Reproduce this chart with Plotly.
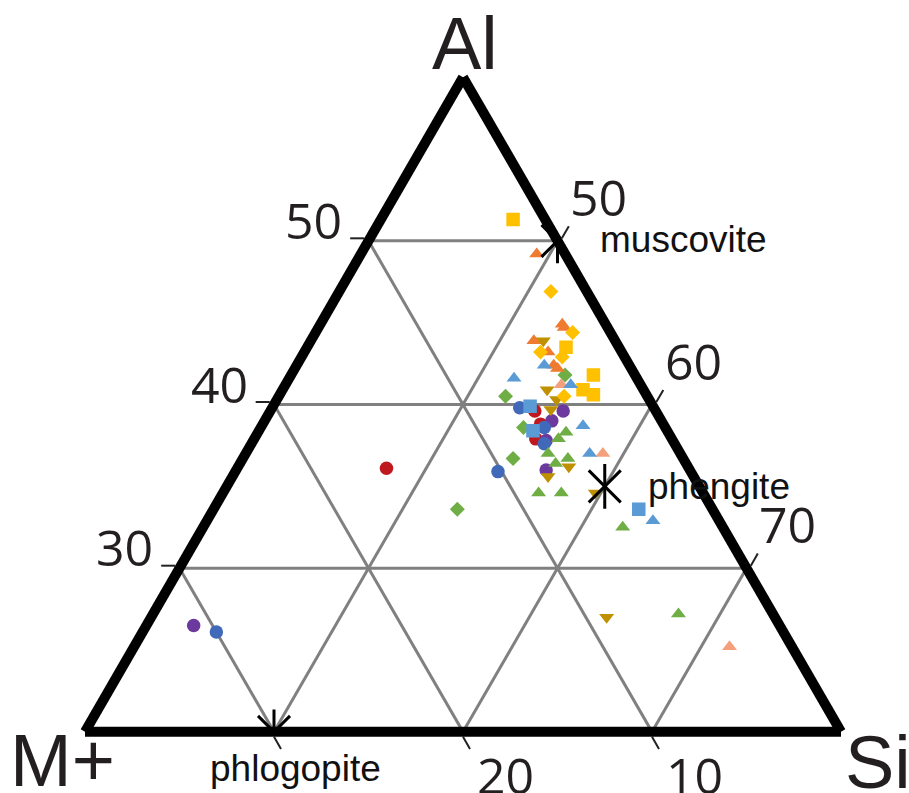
import math
import plotly.graph_objects as go

# Mica compositions as (Al, M+, Si) percentages, one set of lists per group
red_circle_al = [36.1, 39.6, 38.8, 37.9]
red_circle_mp = [16.0, 6.4, 6.5, 7.2]
red_circle_si = [47.9, 54.0, 54.7, 54.9]

purple_circle_al = [39.6, 39.0, 37.8, 36.0, 26.5]
purple_circle_mp = [4.9, 5.8, 6.7, 7.6, 31.0]
purple_circle_si = [55.5, 55.2, 55.5, 56.4, 42.5]

blue_circle_al = [39.8, 38.6, 37.6, 35.9, 26.1]
blue_circle_mp = [7.1, 6.4, 6.9, 10.2, 30.0]
blue_circle_si = [53.1, 55.0, 55.5, 53.9, 43.9]

green_diamond_al = [41.8, 40.5, 38.6, 36.7, 33.6]
green_diamond_mp = [3.7, 7.5, 7.5, 9.0, 13.5]
green_diamond_si = [54.5, 52.0, 53.9, 54.3, 52.9]

ltblue_square_al = [39.9, 38.4, 33.6]
ltblue_square_mp = [6.5, 7.1, 3.9]
ltblue_square_si = [53.6, 54.5, 62.5]

yellow_square_al = [51.3, 43.5, 41.8, 40.9, 40.6]
yellow_square_mp = [1.7, 2.8, 2.2, 3.2, 2.8]
yellow_square_si = [47.0, 53.7, 56.0, 55.9, 56.6]

orange_tri_al = [49.2, 44.9, 44.7, 43.9, 43.2, 42.4, 42.2]
orange_tri_mp = [1.5, 2.3, 2.3, 4.3, 3.9, 4.0, 3.9]
orange_tri_si = [49.3, 52.8, 53.0, 51.8, 52.9, 53.6, 53.9]

salmon_tri_al = [41.2, 37.0, 25.2]
salmon_tri_mp = [4.2, 4.1, 3.3]
salmon_tri_si = [54.6, 58.9, 71.5]

ltblue_tri_al = [42.4, 41.6, 41.2, 38.7, 37.0, 32.9]
ltblue_tri_mp = [4.5, 6.5, 3.7, 4.3, 4.8, 3.5]
ltblue_tri_si = [53.1, 51.9, 55.1, 57.0, 58.2, 63.6]

green_tri_al = [38.3, 37.9, 37.0, 36.7, 36.4, 34.6, 34.6, 32.5, 27.2]
green_tri_mp = [5.4, 6.0, 7.0, 6.1, 6.9, 8.7, 7.5, 5.3, 5.0]
green_tri_si = [56.3, 56.1, 56.0, 57.2, 56.7, 56.7, 57.9, 62.2, 67.8]

gold_dtri_al = [43.9, 40.9, 40.3, 39.7, 36.2, 35.6, 34.6, 27.0]
gold_dtri_mp = [3.8, 5.1, 4.9, 5.5, 6.3, 7.7, 5.7, 8.9]
gold_dtri_si = [52.3, 54.0, 54.8, 54.8, 57.5, 56.7, 59.7, 64.1]

yellow_diamond_al = [46.9, 44.4, 43.2, 42.9, 40.5]
yellow_diamond_mp = [1.9, 2.0, 4.3, 3.3, 4.4]
yellow_diamond_si = [51.2, 53.6, 52.5, 53.8, 55.1]

# Ideal end-member compositions
mineral_names = ["muscovite", "phengite", "phlogopite"]
mineral_al = [50.0, 35.0, 20.0]
mineral_mp = [0.0, 5.0, 30.0]
mineral_si = [50.0, 60.0, 50.0]

# Axis ranges and tick values
AL_MIN, MP_MIN, SI_MIN, TOTAL = 20, 0, 40, 100
al_ticks = [30, 40, 50]
mp_ticks = [10, 20, 30]
mp_labelled = [10, 20]
si_ticks = [50, 60, 70]

groups = [
    (red_circle_al, red_circle_mp, red_circle_si, "circle", 13.5, "#C0181F"),
    (purple_circle_al, purple_circle_mp, purple_circle_si, "circle", 13.5, "#6C3A9E"),
    (blue_circle_al, blue_circle_mp, blue_circle_si, "circle", 13.5, "#4169BA"),
    (green_diamond_al, green_diamond_mp, green_diamond_si, "diamond", 11.5, "#6EAE45"),
    (ltblue_square_al, ltblue_square_mp, ltblue_square_si, "square", 13.5, "#5A9BD6"),
    (yellow_square_al, yellow_square_mp, yellow_square_si, "square", 13.5, "#FFC000"),
    (orange_tri_al, orange_tri_mp, orange_tri_si, "triangle-up", 13, "#EE7B30"),
    (salmon_tri_al, salmon_tri_mp, salmon_tri_si, "triangle-up", 13, "#F5A07C"),
    (ltblue_tri_al, ltblue_tri_mp, ltblue_tri_si, "triangle-up", 13, "#5A9BD6"),
    (green_tri_al, green_tri_mp, green_tri_si, "triangle-up", 13, "#6EAE45"),
    (gold_dtri_al, gold_dtri_mp, gold_dtri_si, "triangle-down", 13, "#BF9000"),
    (yellow_diamond_al, yellow_diamond_mp, yellow_diamond_si, "diamond", 11.5, "#FFC000"),
]

fig = go.Figure()

for al, mp, si, symbol, size, color in groups:
    fig.add_trace(go.Scatterternary(
        a=al, b=mp, c=si, mode="markers",
        marker=dict(symbol=symbol, size=size, color=color, line=dict(width=0)),
        hoverinfo="a+b+c",
    ))

# End-member stars: diagonal cross plus a vertical bar
for sym in ["x-thin-open", "line-ns-open"]:
    fig.add_trace(go.Scatterternary(
        a=mineral_al, b=mineral_mp, c=mineral_si, mode="markers",
        marker=dict(symbol=sym, size=32, color="black",
                    line=dict(width=3, color="black")),
        hovertext=mineral_names, hoverinfo="text",
    ))

W, H = 909, 793
ML, MR, MT, MB = 85, 68, 77, 61
PW, PH = W - ML - MR, H - MT - MB
TRI_H = PW * math.sqrt(3) / 2          # triangle fills the width
Y_OFF = (PH - TRI_H) / 2 / PH          # vertical centring inside the domain
SPAN = TOTAL - AL_MIN - MP_MIN - SI_MIN


def px(x):
    return (x - ML) / PW


def py(y):
    return (H - MB - y) / PH


def tern_paper(al, si):
    """Paper coordinates of a composition inside the ternary domain."""
    fa = (al - AL_MIN) / SPAN
    fc = (si - SI_MIN) / SPAN
    return fc + fa / 2, Y_OFF + fa * TRI_H / PH


label_font = dict(family="Liberation Sans, Arial, sans-serif", size=37, color="#111")
title_font = dict(family="Liberation Sans, Arial, sans-serif", size=74, color="#231F20")
tick_font = dict(family="Open Sans, sans-serif", size=50, color="#231F20")

annotations = [
    dict(text="muscovite", x=px(598), y=py(240), xanchor="left", yanchor="middle", font=label_font),
    dict(text="phengite", x=px(646), y=py(486), xanchor="left", yanchor="middle", font=label_font),
    dict(text="phlogopite", x=px(208), y=py(769), xanchor="left", yanchor="middle", font=label_font),
    dict(text="Al", x=px(465), y=1.0 + MT / PH, xanchor="center", yanchor="top", font=title_font),
    dict(text="M+", x=px(62), y=py(760), xanchor="center", yanchor="middle", font=title_font),
    dict(text="Si", x=px(878), y=py(762), xanchor="center", yanchor="middle", font=title_font),
]

# Tick labels sit beside the tick marks of each edge
for v in al_ticks:
    x, y = tern_paper(v, SI_MIN)
    annotations.append(dict(text=str(v), x=x, y=y, xshift=-55, yshift=21, font=tick_font))
for v in si_ticks:
    x, y = tern_paper(TOTAL - v - MP_MIN, v)
    annotations.append(dict(text=str(v), x=x, y=y, xshift=41, yshift=44, font=tick_font))
for v in mp_labelled:
    x, y = tern_paper(AL_MIN, TOTAL - AL_MIN - v)
    annotations.append(dict(text=str(v), x=x, y=y, xshift=42, yshift=-43, font=tick_font))

for a in annotations:
    a.update(xref="paper", yref="paper", showarrow=False)
    a.setdefault("xanchor", "center")
    a.setdefault("yanchor", "middle")

axis_common = dict(
    linecolor="black", linewidth=10,
    gridcolor="#808080", gridwidth=2.5,
    ticks="outside", ticklen=14, tickwidth=2, tickcolor="#222",
    showticklabels=False,
    tickmode="array", layer="below traces",
    title=dict(text=""),
)

fig.update_layout(
    width=W, height=H,
    margin=dict(l=ML, r=MR, t=MT, b=MB),
    paper_bgcolor="white",
    showlegend=False,
    annotations=annotations,
    ternary=dict(
        sum=TOTAL,
        bgcolor="white",
        aaxis=dict(min=AL_MIN, tickvals=al_ticks, **axis_common),
        baxis=dict(min=MP_MIN, tickvals=mp_ticks, **axis_common),
        caxis=dict(min=SI_MIN, tickvals=si_ticks, **axis_common),
    ),
)

fig.write_html("out.html")
